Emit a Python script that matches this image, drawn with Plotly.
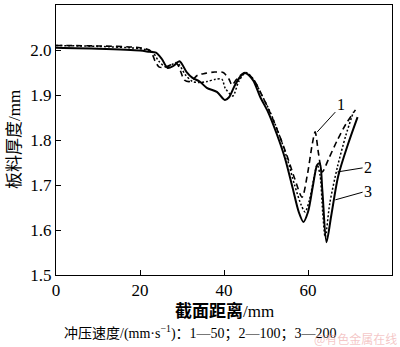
import plotly.graph_objects as go

# Sheet thickness along the cross-section for three punch speeds
x_v50 = [0, 10, 20, 22.5, 23.6, 24.6, 26, 28.7, 30.6, 32, 33.7, 35.5, 37.8, 39.8, 41.2, 41.9, 43, 45, 47, 49, 51, 53, 55, 56.8, 58.6, 59.8, 61, 61.7, 62.5, 63.4, 65, 67, 69, 71.3]
y_v50 = [2.010, 2.009, 2.005, 1.998, 1.975, 1.962, 1.962, 1.970, 1.933, 1.930, 1.944, 1.948, 1.951, 1.950, 1.935, 1.922, 1.935, 1.950, 1.935, 1.900, 1.860, 1.815, 1.765, 1.715, 1.673, 1.720, 1.790, 1.818, 1.770, 1.729, 1.760, 1.800, 1.835, 1.867]

x_v100 = [0, 10, 20, 22.8, 24.5, 26.2, 28.8, 30.8, 32.5, 34, 36, 38, 39.5, 40.3, 42.1, 43.5, 45.2, 47, 49, 51, 53, 55, 56.8, 58.4, 59.3, 60.3, 61.3, 62.2, 62.9, 63.5, 64.1, 65.2, 67, 69, 70.8]
y_v100 = [2.010, 2.008, 2.003, 1.997, 1.975, 1.962, 1.972, 1.945, 1.930, 1.928, 1.930, 1.935, 1.935, 1.915, 1.898, 1.930, 1.950, 1.935, 1.900, 1.862, 1.815, 1.760, 1.700, 1.655, 1.640, 1.665, 1.710, 1.745, 1.720, 1.640, 1.584, 1.660, 1.740, 1.810, 1.862]

x_v200 = [0, 10, 20, 22.2, 23.8, 25.2, 26.6, 28, 29.4, 31.1, 32.5, 34.2, 35.9, 38.3, 40.2, 41.2, 42.5, 43.8, 45, 46.9, 48.6, 50.5, 52.5, 54.5, 56.3, 57.8, 58.9, 60, 61.2, 62.2, 62.8, 63.4, 64.4, 65.5, 67.2, 69.5, 71.8]
y_v200 = [2.005, 2.003, 1.999, 1.996, 1.994, 1.980, 1.960, 1.965, 1.975, 1.951, 1.938, 1.930, 1.916, 1.907, 1.889, 1.895, 1.920, 1.940, 1.949, 1.933, 1.896, 1.862, 1.815, 1.760, 1.695, 1.640, 1.618, 1.640, 1.700, 1.745, 1.748, 1.690, 1.573, 1.630, 1.720, 1.790, 1.851]

x_ticks = [0, 20, 40, 60, 80]
y_ticks = [1.5, 1.6, 1.7, 1.8, 1.9, 2.0, 2.1]

SERIF = "Liberation Serif, Times New Roman, Noto Sans CJK SC, serif"

fig = go.Figure()
fig.add_trace(go.Scatter(x=x_v50, y=y_v50, mode="lines", name="1",
                         line=dict(color="black", width=1.6, dash="6px,4px", shape="spline", smoothing=0.8)))
fig.add_trace(go.Scatter(x=x_v100, y=y_v100, mode="lines", name="2",
                         line=dict(color="black", width=1.5, dash="2px,2px", shape="spline", smoothing=0.8)))
fig.add_trace(go.Scatter(x=x_v200, y=y_v200, mode="lines", name="3",
                         line=dict(color="black", width=2, shape="spline", smoothing=0.8)))

# Leader lines and curve numbers
leaders = [
    ("1", (62.2, 1.818), (66.5, 1.862), (67.8, 1.880)),
    ("2", (67.0, 1.729), (73.0, 1.738), (74.4, 1.738)),
    ("3", (66.5, 1.667), (73.0, 1.684), (74.4, 1.686)),
]
for txt, p0, p1, pt in leaders:
    fig.add_shape(type="line", xref="x", yref="y", x0=p0[0], y0=p0[1], x1=p1[0], y1=p1[1],
                  line=dict(color="black", width=1))
    fig.add_annotation(x=pt[0], y=pt[1], xref="x", yref="y", text=txt, showarrow=False,
                       font=dict(family=SERIF, size=16, color="black"))

axis_common = dict(showline=True, linecolor="black", linewidth=1, mirror=True,
                   ticks="inside", ticklen=5, tickcolor="black", showgrid=False, zeroline=False,
                   tickfont=dict(family=SERIF, size=17, color="black"))
fig.update_xaxes(range=[0, 80], tickvals=x_ticks, **axis_common)
fig.update_yaxes(range=[1.5, 2.1], tickvals=y_ticks, tickformat=".1f", **axis_common)

fig.add_annotation(x=0.5, y=-0.135, xref="paper", yref="paper", xanchor="center", yanchor="middle",
                   text="<b>截面距离</b>/mm", showarrow=False,
                   font=dict(family=SERIF, size=17, color="black"))
fig.add_annotation(x=-0.125, y=0.5, xref="paper", yref="paper", xanchor="center", yanchor="middle",
                   text="板料厚度/mm", textangle=-90, showarrow=False,
                   font=dict(family=SERIF, size=17, color="black"))
fig.add_annotation(x=0.43, y=-0.213, xref="paper", yref="paper", xanchor="center", yanchor="middle",
                   text="冲压速度/(mm·s<sup>−1</sup>)：1—50；2—100；3—200", showarrow=False,
                   font=dict(family=SERIF, size=14, color="black"))
fig.add_annotation(x=1.02, y=-0.235, xref="paper", yref="paper", xanchor="right", yanchor="middle",
                   text="@有色金属在线", showarrow=False,
                   font=dict(family="Noto Sans CJK SC", size=12, color="rgba(235,150,150,0.55)"))

fig.update_layout(width=400, height=347, margin=dict(l=56, r=8, t=5, b=72),
                  paper_bgcolor="white", plot_bgcolor="white", showlegend=False)

fig.write_html("out.html")
